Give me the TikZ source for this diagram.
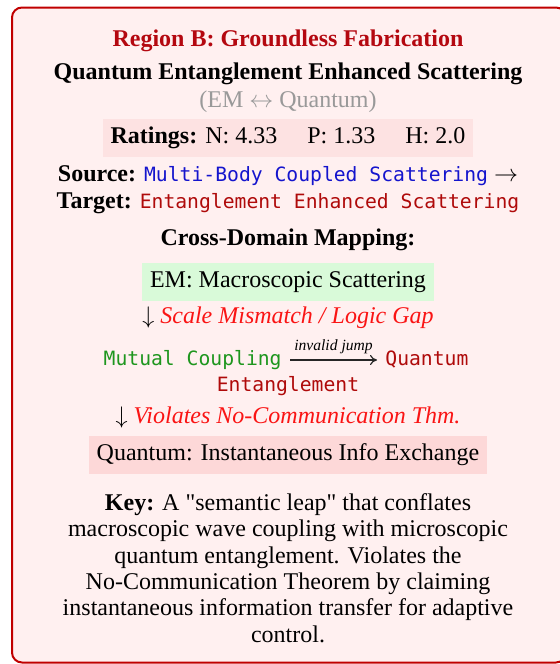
\documentclass[tikz,border=0pt]{standalone}
\usepackage{fontspec}
\setmainfont[Ligatures=TeXOff]{Liberation Serif}
\setmonofont{DejaVu Sans Mono}
\usepackage{xcolor}
\usepackage{tikz}
\usetikzlibrary{arrows.meta,positioning}

\definecolor{frame}{RGB}{192,0,0}
\definecolor{panel}{RGB}{255,240,240}
\definecolor{titlered}{RGB}{180,8,16}
\definecolor{ratefill}{RGB}{253,226,226}
\definecolor{emfill}{RGB}{217,250,217}
\definecolor{qxfill}{RGB}{253,216,216}
\definecolor{srcblue}{RGB}{20,20,205}
\definecolor{tgtred}{RGB}{175,10,10}
\definecolor{mcgreen}{RGB}{30,150,30}
\definecolor{gapred}{RGB}{250,20,20}
\newcommand{\mtt}[1]{{\fontsize{9.85}{12}\selectfont\ttfamily #1}}

\begin{document}
\begin{tikzpicture}[x=0.5pt,y=-0.5pt,>={To[length=3.5pt,width=5pt]},
  every node/.style={font=\fontsize{12}{14}\selectfont,inner sep=0pt},
  hl/.style={inner xsep=4pt,minimum height=19pt},
  mono/.style={font=\fontsize{9.85}{12}\selectfont\ttfamily,text height=0.75em,text depth=0.25em}]
\clip (0,0) rectangle (560,664);
\draw[frame,line width=1pt,fill=panel,rounded corners=5pt] (12,7.5) rectangle (566,662.5);
\node[text=titlered,font=\fontsize{12}{14}\selectfont\bfseries] (T) at (288,40.5) {Region B: Groundless Fabrication};
\node[font=\fontsize{12}{14}\selectfont\bfseries] (N) at (288,73.5) {Quantum Entanglement Enhanced Scattering};
\node[text=black!40] (dom) at (288,101.5) {(EM $\leftrightarrow$ Quantum)};
\node[hl,fill=ratefill] (R) at (288,138) {\textbf{Ratings:} N: 4.33\hspace{1.25em}P: 1.33\hspace{1.25em}H: 2.0};
\node (src) at (288,176) {\textbf{Source:} \mtt{\color{srcblue}Multi-Body Coupled Scattering} $\rightarrow$};
\node (tgt) at (288,203) {\textbf{Target:} \mtt{\color{tgtred}Entanglement Enhanced Scattering}};
\node[font=\fontsize{12}{14}\selectfont\bfseries] (map) at (288,240) {Cross-Domain Mapping:};
\node[hl,fill=emfill] (EM) at (288,282) {EM: Macroscopic Scattering};
\node (g1) at (288,318) {$\downarrow$ \textit{\color{gapred}Scale Mismatch / Logic Gap}};
\node[mono,text=mcgreen,anchor=east] (mc) at (282,360) {Mutual Coupling};
\node[mono,text=tgtred,anchor=west] (qe) at (385,360) {Quantum};
\draw[->,black!85,line width=0.6pt] ([xshift=4pt]mc.east) -- node[above=3pt,font=\fontsize{7.8}{9}\selectfont\itshape,text=black] {invalid jump} ([xshift=-4pt]qe.west);
\node[mono,text=tgtred] (qe2) at (288,386) {Entanglement};
\node (g2) at (288,417) {$\downarrow$ \textit{\color{gapred}Violates No-Communication Thm.}};
\node[hl,fill=qxfill] (QX) at (288,455) {Quantum: Instantaneous Info Exchange};
\node[align=center,font=\fontsize{12}{13.15}\selectfont] (key) at (288,568) {\textbf{Key:} A "semantic leap" that conflates\\macroscopic wave coupling with microscopic\\quantum entanglement. Violates the\\No-Communication Theorem by claiming\\instantaneous information transfer for adaptive\\control.};
\end{tikzpicture}
\end{document}
